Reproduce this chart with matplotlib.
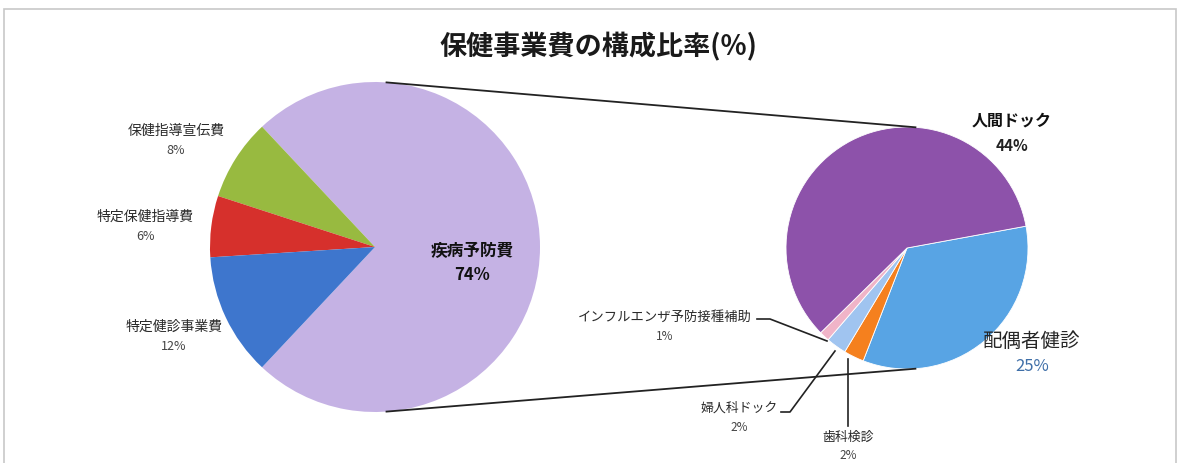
import matplotlib
matplotlib.use("Agg")
import matplotlib.pyplot as plt
import numpy as np
from matplotlib.patches import Rectangle

plt.rcParams['font.family'] = ['Noto Sans CJK JP', 'DejaVu Sans']

# ---------------------------------------------------------------------------
# Data (% of total health-program spending)
# ---------------------------------------------------------------------------
main_labels = ["疾病予防費", "保健指導宣伝費", "特定保健指導費", "特定健診事業費"]
main_values = [74, 8, 6, 12]
main_colors = ["#C5B2E4", "#98BA40", "#D6302C", "#3E76CD"]

sub_labels = ["配偶者健診", "歯科検診", "婦人科ドック", "インフルエンザ予防接種補助", "人間ドック"]
sub_values = [25, 2, 2, 1, 44]
sub_colors = ["#58A4E4", "#F5801E", "#A0C4F0", "#F0B4C8", "#8D52AA"]

title = "保健事業費の構成比率(%)"

W, H = 1179, 464


def Y(y):
    """image-style y (from top) -> axes y (from bottom)"""
    return H - y


fig = plt.figure(figsize=(W / 100, H / 100), dpi=100)
ax = fig.add_axes([0, 0, 1, 1])

# ---------------------------------------------------------------------------
# Pies
# ---------------------------------------------------------------------------
c1, r1 = (375, Y(248)), 165
c2, r2 = (907, Y(249)), 121

start1 = -main_values[0] / sum(main_values) * 360 / 2
ax.pie(main_values, colors=main_colors, center=c1, radius=r1,
       startangle=start1, counterclock=True, frame=True,
       wedgeprops=dict(linewidth=0))

ax.pie(sub_values, colors=sub_colors, center=c2, radius=r2,
       startangle=10.4, counterclock=False, frame=True,
       wedgeprops=dict(linewidth=0.6, edgecolor="white"))

ax.set_xlim(0, W)
ax.set_ylim(0, H)
ax.set_aspect("equal")
ax.axis("off")

# chart frame (bottom edge falls just outside the picture)
ax.add_patch(Rectangle((4, -2), W - 7, Y(10) + 2, fill=False,
                       edgecolor="#C8C8C8", linewidth=1.2))

# connector lines between the pies
for a in (86, -86):
    t = np.deg2rad(a)
    ax.plot([c1[0] + r1 * np.cos(t), c2[0] + r2 * np.cos(t)],
            [c1[1] + r1 * np.sin(t), c2[1] + r2 * np.sin(t)],
            color="#222222", linewidth=1.3)

# ---------------------------------------------------------------------------
# Text
# ---------------------------------------------------------------------------
ax.text(598, Y(47), title, ha="center", va="center", fontsize=19.5,
        fontweight="bold", color="#1A1A1A")

lab_col = "#2A2A2A"
pct_col = "#444444"


def label(x, y, name, val, fs=10, pfs=9, bold=False, ncol=lab_col, pcol=pct_col, gap=20):
    w = "bold" if bold else "normal"
    ax.text(x, Y(y), name, ha="center", va="center", fontsize=fs,
            fontweight=w, color=ncol)
    ax.text(x, Y(y + gap), f"{val}%", ha="center", va="center", fontsize=pfs,
            fontweight=w, color=pcol)


label(472, 251, main_labels[0], main_values[0], fs=12, pfs=12, bold=True,
      ncol="#111111", pcol="#111111", gap=24)
label(176, 131, main_labels[1], main_values[1])
label(145, 217, main_labels[2], main_values[2])
label(174, 327, main_labels[3], main_values[3])

label(1012, 121, sub_labels[4], sub_values[4], fs=11.5, pfs=11, bold=True,
      ncol="#111111", pcol="#222222", gap=25)
label(1032, 342, sub_labels[0], sub_values[0], fs=14, pfs=12,
      ncol="#262626", pcol="#3F6FA8", gap=25)
label(665, 317, sub_labels[3], sub_values[3], fs=9.6, pfs=8.5)
label(739, 408, sub_labels[2], sub_values[2], fs=9.3, pfs=8.5)
label(848, 437, sub_labels[1], sub_values[1], fs=9.3, pfs=8.5, gap=19)

# leader lines for the small slices
lk = dict(color="#222222", linewidth=1.2)
ax.plot([757, 770, 827], [Y(320), Y(320), Y(342)], **lk)
ax.plot([781, 790, 835], [Y(413), Y(413), Y(352)], **lk)
ax.plot([848, 848], [Y(427), Y(360)], **lk)

fig.savefig("out.png", dpi=100)
plt.close(fig)
